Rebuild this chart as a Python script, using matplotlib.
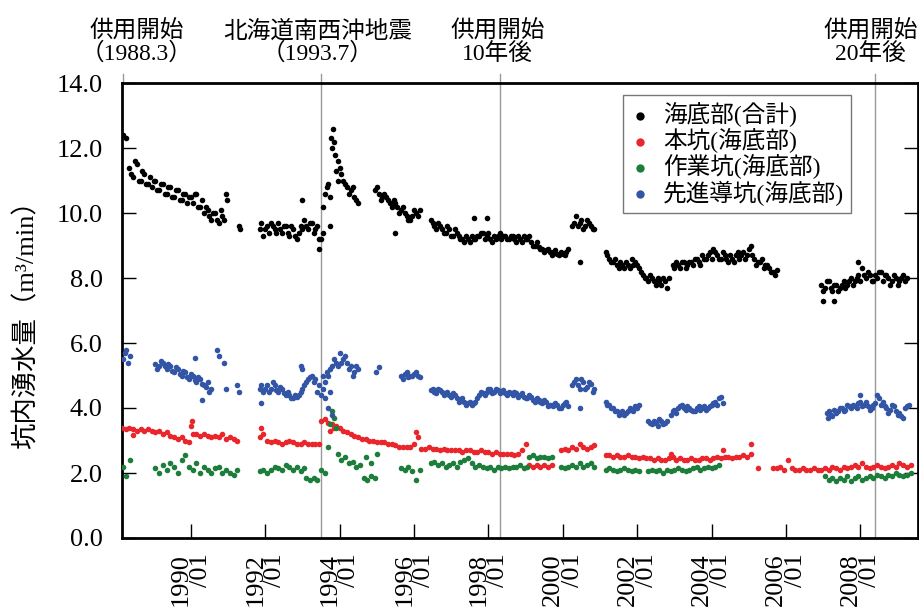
import matplotlib
matplotlib.use("Agg")
import matplotlib.pyplot as plt
import numpy as np

plt.rcParams['font.family'] = ['Liberation Serif', 'Noto Sans CJK JP']

# 年(小数) の刻み幅と、各系列の区間 (開始年, 値リスト)
STEP = 0.1

black_segments = [
    (1988.17, [12.4, 12.3]),
    (1988.35, [11.4, 11.1, 11.5, 11.0, 11.2, 10.9, 10.8, 11.0, 10.7, 10.9, 10.6, 10.8, 10.5,
               10.7, 10.4, 10.6, 10.5, 10.3, 10.6, 10.2, 10.0, 10.1, 9.8, 10.0, 9.7, 9.9]),
    (1990.95, [10.6]), (1990.98, [10.4]), (1991.3, [9.6]), (1991.32, [9.5]),
    (1991.85, [9.5, 9.3, 9.6, 9.7, 9.5, 9.7, 9.4, 9.6, 9.3, 9.5, 9.2, 9.6, 9.8, 9.5, 9.7, 9.5, 9.2]),
    (1993.0, [10.4]), (1993.45, [8.9]),
    (1993.5, [9.2, 10.6, 10.9, 12.0, 11.3, 11.4, 11.0, 10.8, 10.7, 10.5, 10.3]),
    (1993.82, [12.6]), (1993.78, [12.3]), (1993.75, [9.6]), (1993.55, [10.2]),
    (1993.95, [11.6]), (1993.88, [11.8]),
    (1994.95, [10.7, 10.6, 10.5, 10.5, 10.3, 10.4, 10.2, 10.1, 10.0, 9.8, 9.9, 10.0, 10.1]),
    (1995.5, [9.4]),
    (1996.45, [9.8, 9.6, 9.7, 9.5, 9.4, 9.5, 9.3, 9.4, 9.2, 9.1, 9.2, 9.3, 9.2, 9.3, 9.4, 9.3,
               9.2, 9.3, 9.3, 9.2, 9.3, 9.2, 9.3, 9.1, 9.2, 9.3, 9.2, 9.1, 9.0, 8.95, 8.9, 8.85,
               8.8, 8.8, 8.75, 8.8, 8.7, 8.9]),
    (1997.6, [9.85]), (1997.95, [9.85]), (2000.45, [8.5]),
    (2000.25, [9.6, 9.9, 9.7, 9.5, 9.8, 9.6, 9.5]),
    (2001.15, [8.8, 8.6, 8.5, 8.4, 8.5, 8.3, 8.4, 8.6, 8.5, 8.3, 8.1, 8.0, 8.1, 7.9, 8.0, 7.8,
               7.9, 8.0]),
    (2002.95, [8.4, 8.5, 8.3, 8.5, 8.4, 8.5, 8.6, 8.5, 8.7, 8.6, 8.8, 8.9, 8.7, 8.6, 8.7, 8.5,
               8.6, 8.7, 8.6, 8.8, 8.7, 9.0, 8.6, 8.5, 8.6, 8.4, 8.3, 8.2, 8.25]),
    (2006.95, [7.8, 7.7, 7.9, 7.6, 7.8, 7.7, 7.9, 7.8, 8.0, 7.9, 8.1, 8.3, 8.0, 8.1, 7.9, 8.0,
               8.2, 8.1, 8.0, 7.9, 8.0, 7.9, 8.1, 8.0]),
    (2007.0, [7.3]), (2007.3, [7.3]), (2007.95, [8.5]),
    # 雲の反対側の読み取り値
    (1988.40, [11.2, 11.6, 11.0, 11.3, 10.9, 11.1, 11.0, 10.7, 10.9, 10.6, 10.8, 10.5, 10.7,
               10.4, 10.6, 10.3, 10.5, 10.6, 10.2, 10.4, 10.2, 9.9, 10.0, 9.8, 10.1, 9.8]),
    (1991.90, [9.7, 9.5, 9.4, 9.6, 9.4, 9.5, 9.6, 9.4, 9.6, 9.3, 9.4, 9.5, 9.6, 9.7, 9.4, 9.6]),
    (1993.55, [9.4, 10.8, 10.5, 12.2, 11.0, 11.2, 10.9, 10.6, 10.8, 10.4]),
    (1995.00, [10.8, 10.4, 10.6, 10.4, 10.2, 10.3, 10.0, 10.2, 9.9, 9.8, 10.1, 9.9]),
    (1996.50, [9.7, 9.5, 9.6, 9.4, 9.6, 9.3, 9.5, 9.3, 9.2, 9.3, 9.1, 9.2, 9.3, 9.4, 9.2, 9.4,
               9.1, 9.2, 9.4, 9.3, 9.2, 9.3, 9.2, 9.3, 9.1, 9.2, 9.3, 9.0, 9.1, 8.9, 8.8, 8.9,
               8.7, 8.85, 8.7, 8.75, 8.8]),
    (2000.30, [9.7, 9.6, 9.8, 9.6, 9.7, 9.5]),
    (2001.20, [8.7, 8.5, 8.6, 8.3, 8.4, 8.5, 8.3, 8.4, 8.4, 8.2, 8.0, 7.9, 8.0, 7.8, 7.9, 8.0, 7.7]),
    (2003.00, [8.3, 8.4, 8.5, 8.3, 8.5, 8.4, 8.6, 8.4, 8.6, 8.7, 8.6, 8.8, 8.6, 8.8, 8.6, 8.7,
               8.5, 8.8, 8.7, 8.6, 8.9, 8.7, 8.4, 8.5, 8.3, 8.4, 8.2, 8.1]),
    (2007.00, [7.6, 7.9, 7.7, 7.8, 7.6, 7.8, 7.7, 7.9, 7.8, 8.0, 7.9, 8.1, 8.2, 7.9, 8.1, 8.2,
               7.9, 8.1, 7.8, 8.1, 7.8, 8.0, 7.9]),
]

red_segments = [
    (1988.15, [3.4, 3.35, 3.4, 3.35, 3.3, 3.35, 3.3, 3.35, 3.3, 3.25, 3.3, 3.2, 3.25, 3.15, 3.1,
               3.05, 3.1, 3.0, 2.95, 3.2, 3.2, 3.15, 3.2, 3.15, 3.1, 3.15, 3.1, 3.2, 3.05, 3.1,
               3.05, 3.0]),
    (1990.03, [3.6]), (1990.0, [3.45]), (1988.44, [3.17]),
    (1991.85, [3.1, 3.2, 3.0, 2.95, 3.0, 2.95, 2.9, 2.95, 3.0, 2.95, 2.9, 2.9, 2.95, 2.9, 2.9,
               2.9, 2.9]),
    (1991.9, [3.4]),
    (1993.5, [3.6, 3.65, 3.55, 3.5, 3.45, 3.4, 3.3, 3.25, 3.2, 3.15, 3.1, 3.05, 3.05, 3.0, 3.0,
              2.95, 2.95, 2.95, 2.9, 2.9, 2.85, 2.8, 2.8, 2.8, 2.8, 2.9, 3.1, 2.75, 2.75, 2.8,
              2.75, 2.75, 2.7, 2.75, 2.7, 2.7, 2.7, 2.7, 2.65, 2.7, 2.7, 2.65, 2.65, 2.7, 2.65,
              2.65, 2.6, 2.65, 2.6, 2.6, 2.6, 2.6, 2.55, 2.6, 2.7, 2.9]),
    (1996.05, [3.25]), (1993.75, [3.3]), (1993.85, [3.4]),
    (1999.1, [2.25, 2.2, 2.25, 2.2, 2.25, 2.2, 2.25]),
    (1999.95, [2.7, 2.75, 2.7, 2.8, 2.75, 2.9, 2.8, 2.75, 2.8, 2.85]),
    (2001.15, [2.55, 2.55, 2.5, 2.55, 2.5, 2.5, 2.55, 2.5, 2.5, 2.45, 2.5, 2.45, 2.45, 2.4, 2.45,
               2.4, 2.4, 2.45, 2.5, 2.4, 2.45, 2.4, 2.4, 2.45, 2.4, 2.4, 2.45, 2.45, 2.4, 2.45,
               2.5, 2.45, 2.5, 2.5, 2.45, 2.5, 2.5, 2.55, 2.5, 2.6]),
    (2005.05, [2.9]), (2004.3, [2.7]), (2002.9, [2.6]), (2005.25, [2.15]),
    (2005.65, [2.15, 2.15, 2.2, 2.1, 2.4, 2.15, 2.1, 2.1, 2.15, 2.1, 2.1, 2.15, 2.1]),
    (2006.95, [2.1, 2.15, 2.1, 2.2, 2.15, 2.1, 2.2, 2.15, 2.2, 2.25, 2.2, 2.3, 2.2, 2.15, 2.2,
               2.25, 2.2, 2.15, 2.2, 2.25, 2.2, 2.3, 2.25, 2.2, 2.25]),
]

green_segments = [
    (1988.17, [2.2, 1.9, 2.4]),
    (1989.05, [2.15, 2.0, 2.25, 2.1, 2.3, 2.2, 2.0, 2.4, 2.55, 2.2, 2.1, 2.3, 2.0, 2.2, 2.1,
               2.0, 2.15]),
    (1990.75, [2.2, 2.0, 2.1, 2.0, 1.95, 2.1]),
    (1991.85, [2.05, 2.1, 2.0, 2.1, 2.2, 2.15, 2.1, 2.25, 2.2, 2.1, 2.2, 2.05, 2.15]),
    (1993.1, [1.85, 1.8, 1.85, 1.8]),
    (1993.5, [2.1, 2.0]),
    (1993.75, [3.5]), (1993.8, [3.9]), (1993.85, [3.7]), (1993.9, [3.4]), (1993.7, [2.8]),
    (1993.95, [2.6, 2.4, 2.5, 2.3, 2.35, 2.2, 2.25]),
    (1994.65, [1.85, 1.8, 1.9, 1.85]),
    (1994.7, [2.5]), (1995.0, [2.6]), (1994.85, [2.3]),
    (1995.65, [2.15, 2.1, 2.2, 2.05, 1.8, 2.1]),
    (1996.45, [2.3, 2.35, 2.25, 2.3, 2.2, 2.25, 2.3, 2.2, 2.35, 2.4, 2.45, 2.3, 2.2, 2.25, 2.2,
               2.15, 2.2, 2.1, 2.2, 2.15, 2.2, 2.15, 2.2, 2.2, 2.25]),
    (1998.95, [2.15, 2.2]),
    (1999.1, [2.5, 2.55, 2.45, 2.5, 2.5, 2.45, 2.5]),
    (1999.95, [2.2, 2.15, 2.2, 2.25, 2.2, 2.3, 2.2, 2.25, 2.3, 2.2]),
    (2001.15, [2.1, 2.15, 2.1, 2.05, 2.1, 2.15, 2.1, 2.05, 2.1, 2.05]),
    (2002.3, [2.05, 2.1, 2.05, 2.1, 2.0, 2.1, 2.05, 2.1, 2.15, 2.1, 2.05, 2.1, 2.15, 2.2, 2.1,
              2.15, 2.2, 2.15, 2.2, 2.25]),
    (2007.05, [1.9, 1.8, 1.85, 1.75, 1.85, 1.8, 1.9, 1.75, 1.85, 1.9, 1.8, 1.85, 1.9, 1.85,
               1.95, 1.9, 1.85, 1.95, 1.9, 2.0, 1.95, 1.9, 1.95, 2.0]),
]

blue_segments = [
    (1988.17, [5.5, 5.8, 5.6]),
    (1989.05, [5.35, 5.3, 5.4, 5.2, 5.3, 5.1, 5.2, 5.0, 5.1, 4.9, 5.0, 4.8, 4.9, 4.7, 4.8, 4.6]),
    (1990.3, [4.25]), (1990.1, [5.55]), (1990.7, [5.8]), (1990.75, [5.6]), (1990.9, [5.4]),
    (1990.95, [4.6]), (1991.25, [4.7]), (1991.3, [4.5]),
    (1991.85, [4.6, 4.5, 4.7, 4.6, 4.7, 4.5, 4.6, 4.4, 4.4, 4.3, 4.35, 4.5, 4.7, 4.9, 5.0, 4.9,
               4.7]),
    (1991.9, [4.15]), (1992.95, [5.3]), (1993.0, [5.2]),
    (1993.5, [4.4, 4.8, 5.0, 5.3, 5.4, 5.7, 5.5, 5.4, 5.3, 5.1, 5.2]),
    (1993.6, [4.3]), (1993.7, [4.0]), (1993.8, [3.8]), (1993.75, [4.5]), (1993.55, [5.0]),
    (1994.97, [5.1]), (1995.05, [5.25]),
    (1995.65, [5.0, 5.05, 4.95, 5.0, 5.1, 4.95]),
    (1996.45, [4.55, 4.5, 4.6, 4.5, 4.45, 4.4, 4.45, 4.3, 4.25, 4.2, 4.15, 4.1, 4.2, 4.4, 4.45,
               4.5, 4.6, 4.5, 4.55, 4.5, 4.45, 4.5, 4.4, 4.45, 4.4, 4.35, 4.3, 4.35, 4.2, 4.25,
               4.15, 4.2, 4.1, 4.05, 4.1, 4.0, 4.15, 4.05]),
    (2000.25, [4.7, 4.9, 4.6, 4.8, 4.65, 4.75, 4.6]),
    (2000.45, [4.0]),
    (2001.15, [4.2, 4.1, 4.0, 3.9, 3.85, 3.8, 3.9, 3.95, 4.05, 4.1]),
    (2002.3, [3.6, 3.5, 3.55, 3.65, 3.5, 3.6]),
    (2002.9, [3.8, 3.95, 4.0, 4.1, 3.95, 4.0, 3.9, 4.0, 3.95, 4.05, 4.0, 4.1, 4.2, 4.3, 4.15]),
    (2007.1, [3.85, 3.8, 3.95, 3.9, 4.0, 3.95, 4.05, 4.1, 4.0, 4.2, 4.1, 4.05, 4.0, 4.15, 4.3,
              4.2, 4.0, 3.95, 4.05, 3.8, 3.75, 4.0, 4.1]),
    (2007.12, [3.7]), (2008.0, [4.4]),
    # 雲の反対側の読み取り値
    (1988.22, [5.7, 5.4]),
    (1989.10, [5.2, 5.45, 5.3, 5.35, 5.15, 5.25, 5.05, 5.15, 4.95, 5.05, 4.85, 4.95, 4.75, 4.65, 4.5]),
    (1991.90, [4.7, 4.6, 4.5, 4.8, 4.55, 4.65, 4.45, 4.5, 4.3, 4.4, 4.4, 4.6, 4.8, 4.95, 4.8, 4.5]),
    (1993.55, [4.6, 5.1, 5.2, 5.5, 5.3, 5.4, 5.6, 5.2, 5.0, 5.3]),
    (1995.70, [4.9, 5.1, 5.0, 5.05, 5.0]),
    (1996.50, [4.6, 4.45, 4.55, 4.4, 4.5, 4.35, 4.4, 4.2, 4.3, 4.1, 4.2, 4.15, 4.3, 4.5, 4.4, 4.6,
               4.45, 4.6, 4.45, 4.55, 4.4, 4.45, 4.5, 4.35, 4.45, 4.3, 4.4, 4.25, 4.3, 4.2, 4.25,
               4.05, 4.1, 4.15, 4.0, 4.1, 4.2]),
    (2000.30, [4.8, 4.7, 4.9, 4.6, 4.8, 4.5]),
    (2001.20, [4.1, 4.0, 3.9, 3.8, 3.9, 3.85, 4.0, 3.9, 4.0]),
    (2002.35, [3.55, 3.6, 3.45, 3.6, 3.55]),
    (2002.95, [3.9, 3.85, 4.05, 4.0, 4.05, 3.95, 3.9, 4.05, 4.0, 3.95, 4.05, 4.15, 4.1, 4.35]),
    (2007.15, [3.9, 3.75, 3.85, 4.0, 3.9, 4.1, 4.0, 4.05, 4.15, 4.05, 4.2, 3.95, 4.1, 4.4, 4.1,
               4.05, 3.85, 4.1, 3.9, 3.85, 3.7, 4.05]),
]

series_labels = ['海底部(合計)', '本坑(海底部)', '作業坑(海底部)', '先進導坑(海底部)']
series_colors = ['black', '#e8262b', '#1d7d3a', '#3355a5']

year_ticks = [1990, 1992, 1994, 1996, 1998, 2000, 2002, 2004, 2006, 2008]
y_ticks = [0, 2, 4, 6, 8, 10, 12, 14]

event_years = [1988.17, 1993.5, 1998.32, 2008.4]
event_labels = ['供用開始\n（1988.3）', '北海道南西沖地震\n（1993.7）', '供用開始\n10年後', '供用開始\n20年後']
event_text_x = [1988.55, 1993.42, 1998.25, 2008.27]


def expand(segments):
    xs, ys = [], []
    for start, vals in segments:
        xs.extend(start + STEP * np.arange(len(vals)))
        ys.extend(vals)
    return np.array(xs), np.array(ys)


fig = plt.figure(figsize=(9.2, 6.08), dpi=100)
ax = fig.add_axes([122 / 920, 70 / 608, 796 / 920, 455 / 608])

for segs, lab, col in zip([black_segments, red_segments, green_segments, blue_segments],
                          series_labels, series_colors):
    x, y = expand(segs)
    ax.scatter(x, y, s=16, c=col, marker='o', linewidths=0, label=lab, zorder=3)

ax.set_xlim(1988.15, 2009.55)
ax.set_ylim(0, 14)

for ex in event_years[1:]:
    ax.axvline(ex, ymin=0, ymax=1.02, color='#999999', lw=1, clip_on=False, zorder=1)
ax.axvline(event_years[0], ymin=1.0, ymax=1.02, color='#999999', lw=1, clip_on=False)

for tx, lab in zip(event_text_x, event_labels):
    ax.text(tx, 14.55, lab, ha='center', va='bottom', fontsize=17, linespacing=1.0)

ax.set_yticks(y_ticks)
ax.set_yticklabels(['%.1f' % v for v in y_ticks], fontsize=19)
ax.set_xticks(year_ticks)
ax.set_xticklabels(['%d\n/01' % v for v in year_ticks], fontsize=19, rotation=90,
                   va='top', ha='center', multialignment='right', linespacing=0.85)

ax.tick_params(axis='y', direction='in', length=10, width=1, right=True, pad=14)
ax.tick_params(axis='x', direction='in', length=10, width=1, pad=11)
for sp in ax.spines.values():
    sp.set_linewidth(2)

fig.text(26 / 920, 1 - 318 / 608, '坑内湧水量（m³/min）', rotation=90, ha='center',
         va='center', fontsize=19)

leg = ax.legend(loc='upper left', bbox_to_anchor=(623 / 920, 1 - 95 / 608),
                bbox_transform=fig.transFigure, fontsize=17, markerscale=1.5,
                handlelength=0.8, handletextpad=0.6, labelspacing=0.05, borderpad=0.3,
                borderaxespad=0, frameon=True, fancybox=False)
leg.get_frame().set_edgecolor('#555555')
leg.get_frame().set_linewidth(1)

fig.savefig('out.png', dpi=100)
